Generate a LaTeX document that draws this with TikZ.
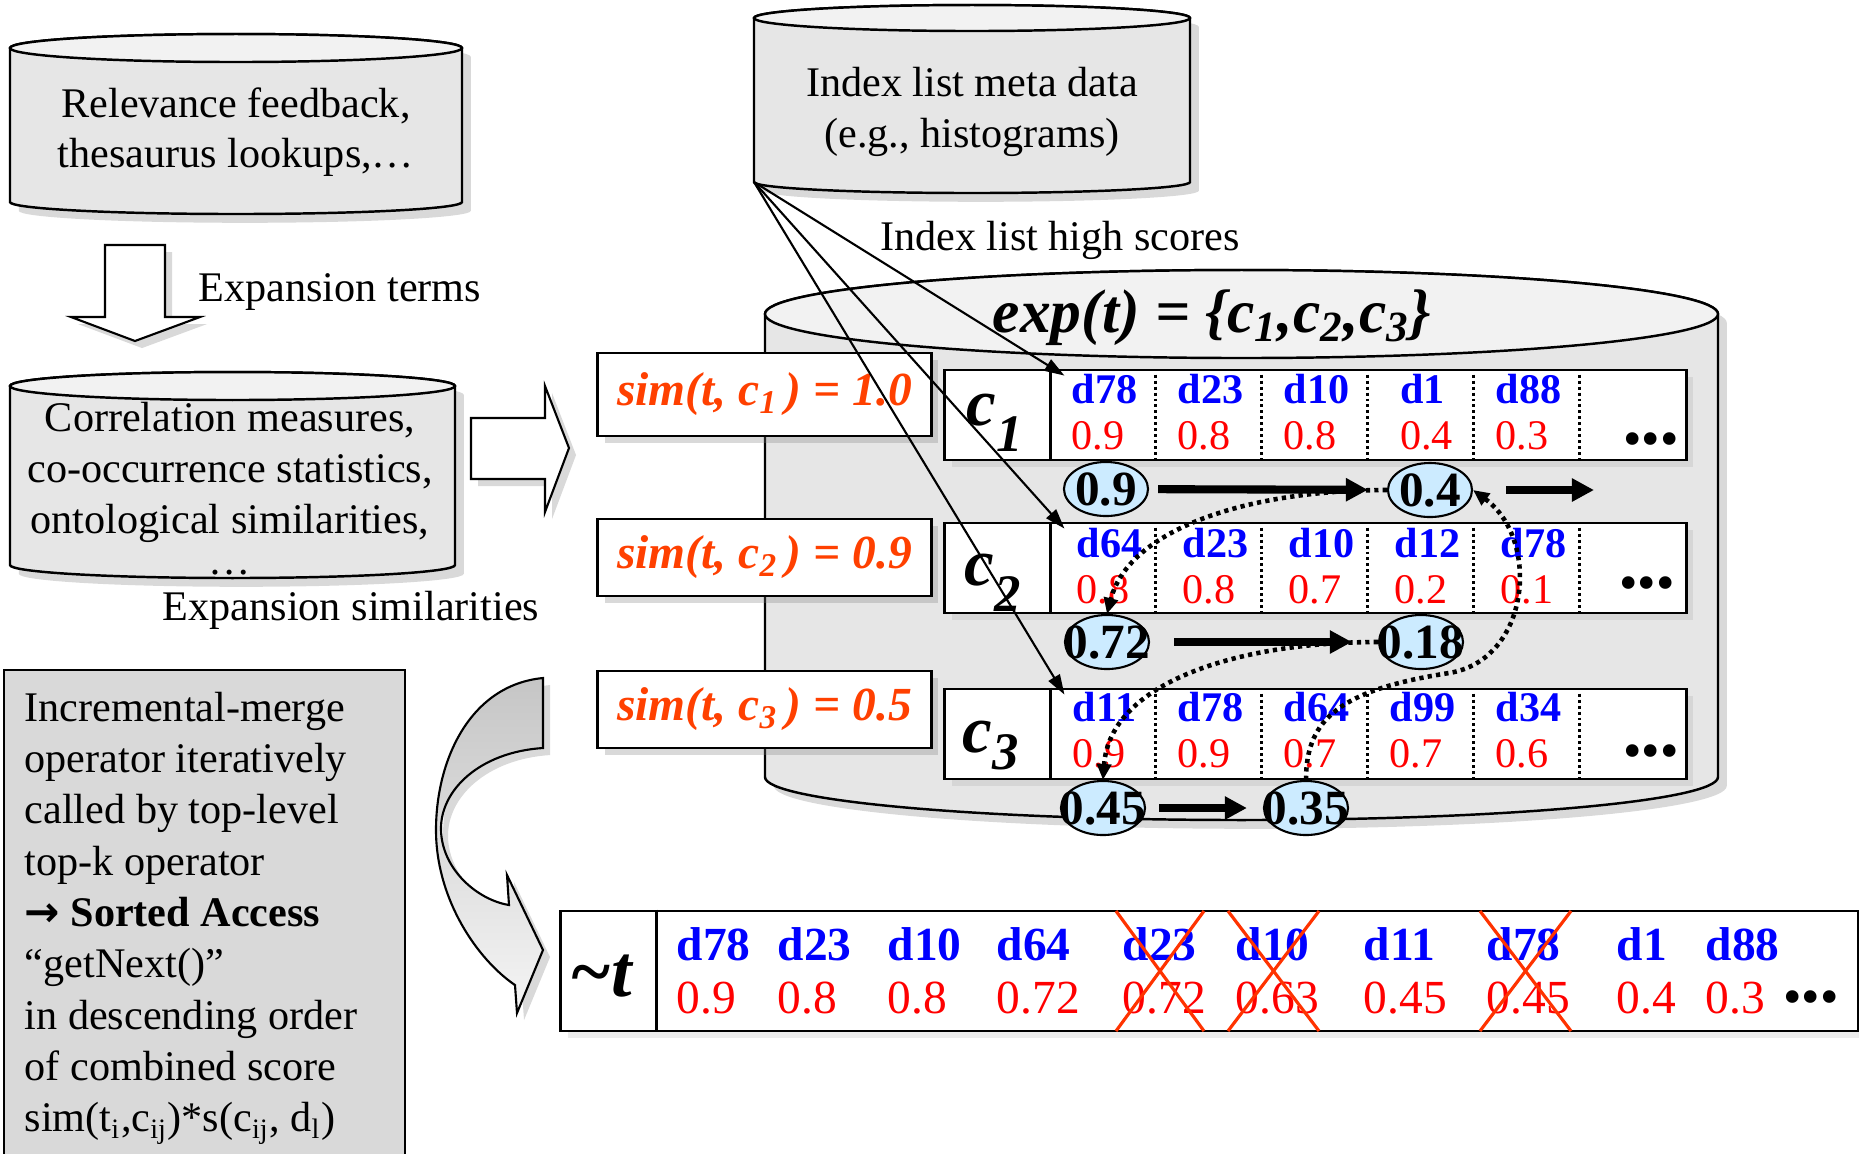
\documentclass[tikz,border=0pt]{standalone}
\usepackage{fontspec}
\setmainfont{Liberation Serif}
\newfontfamily\arrowfont{DejaVu Sans}
\usepackage{tikz}
\usetikzlibrary{shapes,arrows.meta,positioning,shadows,calc}

\definecolor{cylfill}{HTML}{E6E6E6}
\definecolor{lidfill}{HTML}{F2F2F2}
\definecolor{opfill}{HTML}{D9D9D9}
\definecolor{scorefill}{HTML}{CCEBFF}
\definecolor{simcol}{HTML}{FF4000}
\definecolor{strike}{HTML}{FF3300}
\definecolor{docblue}{HTML}{0000FF}
\definecolor{scorered}{HTML}{FF0000}

\begin{document}
\begin{tikzpicture}[
    x=0.01cm, y=-0.01cm,
    txt/.style={inner sep=0pt, font=\fontsize{12}{14.4}\selectfont},
    cylside/.style={draw, line width=0.7pt, fill=cylfill, drop shadow={shadow xshift=2.5pt, shadow yshift=-2.5pt, opacity=0.3}},
    cyllid/.style={draw, line width=0.7pt, fill=lidfill},
    hollow/.style={draw, line width=0.6pt, fill=white, drop shadow={shadow xshift=2pt, shadow yshift=-2pt, opacity=0.3}},
    curvearrow/.style={draw, line width=0.6pt, top color=gray!45, bottom color=gray!8, drop shadow={shadow xshift=2pt, shadow yshift=-2pt, opacity=0.3}},
    opframe/.style={draw, line width=0.6pt, fill=opfill},
    simbox/.style={rectangle, draw, line width=0.8pt, fill=white, minimum width=3.33cm, minimum height=0.83cm, inner sep=0pt, font=\fontsize{13.5}{15}\selectfont\bfseries\itshape, text=simcol, drop shadow={shadow xshift=2pt, shadow yshift=-2pt, opacity=0.3}},
    rowbox/.style={rectangle, draw, line width=0.8pt, fill=white, minimum width=7.41cm, minimum height=0.9cm, inner sep=0pt, drop shadow={shadow xshift=2pt, shadow yshift=-2pt, opacity=0.15}},
    clabel/.style={inner sep=0pt, anchor=base west, font=\fontsize{19}{22}\selectfont\bfseries\itshape},
    docid/.style={inner sep=0pt, anchor=base, text=docblue, font=\fontsize{12}{14}\selectfont\bfseries},
    docscore/.style={inner sep=0pt, anchor=base west, text=scorered, font=\fontsize{12}{14}\selectfont},
    moredots/.style={inner sep=0pt, font=\fontsize{15}{18}\selectfont},
    listsep/.style={line width=0.85pt, dash pattern=on 0.85pt off 0.85pt},
    scoreell/.style={ellipse, draw, line width=0.6pt, fill=scorefill, minimum width=0.84cm, minimum height=0.54cm, inner sep=0pt, font=\fontsize{14}{16}\selectfont\bfseries},
    bigarrow/.style={-{Triangle[length=0.22cm, width=0.22cm]}, line width=2.3pt},
    dotarrow/.style={-{Triangle[length=0.16cm, width=0.14cm]}, line width=1.3pt, dash pattern=on 1.2pt off 1.2pt},
    hitarrow/.style={-{Triangle[length=0.2cm, width=0.13cm]}, line width=0.6pt},
    crossout/.style={strike, line width=0.9pt}
]
    \useasboundingbox (0,0) rectangle (1859,1153);

    % ============ Relevance feedback store ============
    \path[cylside] (10,48) -- (10,202) arc[start angle=180, end angle=0, x radius=226, y radius=12]
        -- (462,48) arc[start angle=0, end angle=-180, x radius=226, y radius=14] -- cycle;
    \path[cyllid] (236,48) ellipse[x radius=226, y radius=14];
    \node[txt, align=center] (relfb) at (236,132) {Relevance feedback,\\thesaurus lookups,…};

    % expansion terms arrow
    \path[hollow] (105,245) -- (165,245) -- (165,317) -- (200,317) -- (135,341) -- (71,317) -- (105,317) -- cycle;
    \node[txt, anchor=west] (expterms) at (198,292) {Expansion terms};

    % ============ Correlation store ============
    \path[cylside] (10,386) -- (10,565) arc[start angle=180, end angle=0, x radius=222.5, y radius=13]
        -- (455,386) arc[start angle=0, end angle=-180, x radius=222.5, y radius=14] -- cycle;
    \path[cyllid] (232.5,386) ellipse[x radius=222.5, y radius=14];
    \node[txt, align=center] (corr) at (230,489) {Correlation measures,\\co-occurrence statistics,\\ontological similarities,\\[-2.5pt]…};
    \node[txt] (expsim) at (351,610) {Expansion similarities};

    % similarities arrow
    \path[hollow] (471,418) -- (545,418) -- (545,386) -- (569,448) -- (545,512) -- (545,479) -- (471,479) -- cycle;

    % ============ Operator description ============
    \path[opframe] (4,670) rectangle (405,1165);
    \node[txt, anchor=north west, align=left, font=\fontsize{12}{14.6}\selectfont] (opdesc) at (24,691)
        {Incremental-merge\\operator iteratively\\called by top-level\\top-k operator\\{\arrowfont\bfseries →} \textbf{Sorted Access}\\“getNext()”\\in descending order\\of combined score\\sim(t\textsubscript{i},c\textsubscript{ij})*s(c\textsubscript{ij}, d\textsubscript{l})};

    % merge arrow
    \path[curvearrow] (543,678) .. controls (470,685) and (436,760) .. (436,830)
        .. controls (436,900) and (478,960) .. (515,985) -- (517,1013) -- (543,950) -- (507,875) -- (509,905)
        .. controls (478,900) and (442,870) .. (441,830) .. controls (440,790) and (480,752) .. (543,748) -- cycle;

    % ============ Index list meta data ============
    \path[cylside] (754,18) -- (754,182) arc[start angle=180, end angle=0, x radius=218, y radius=11]
        -- (1190,18) arc[start angle=0, end angle=-180, x radius=218, y radius=13] -- cycle;
    \path[cyllid] (972,18) ellipse[x radius=218, y radius=13];
    \node[txt, align=center] (meta) at (972,112) {Index list meta data\\(e.g., histograms)};
    \coordinate (metacorner) at (754,182);
    \node[txt] (hiscores) at (1060,240) {Index list high scores};

    % ============ Expansion index lists ============
    \path[cylside] (765,314) -- (765,777) arc[start angle=180, end angle=0, x radius=476.5, y radius=43]
        -- (1718,314) arc[start angle=0, end angle=-180, x radius=476.5, y radius=44] -- cycle;
    \path[cyllid] (1241.5,314) ellipse[x radius=476.5, y radius=44];
    \node[inner sep=0pt, font=\fontsize{17.5}{20}\selectfont\bfseries\itshape] (expt) at (1212,318)
        {exp(t) = \{c\textsubscript{1},c\textsubscript{2},c\textsubscript{3}\}};

    % sim boxes
    \node[simbox] (sim1) at (764.5,394.5) {sim(t, c\textsubscript{1}\,) = 1.0};
    \node[simbox, minimum height=0.77cm] (sim2) at (764.5,557.5) {sim(t, c\textsubscript{2}\,) = 0.9};
    \node[simbox, minimum height=0.77cm] (sim3) at (764.5,709.5) {sim(t, c\textsubscript{3}\,) = 0.5};

    % list rows
    \node[rowbox] (row1) at (1315.5,415) {};
    \node[rowbox] (row2) at (1315.5,568) {};
    \node[rowbox] (row3) at (1315.5,734) {};
    \foreach \r in {1,2,3} {
        \draw[line width=0.9pt] ([xshift=1.07cm]row\r.north west) -- ([xshift=1.07cm]row\r.south west);
        \foreach \o in {2.12,3.18,4.24,5.30,6.36}
            \draw[listsep] ([xshift=\o cm, yshift=-0.06cm]row\r.north west) -- ([xshift=\o cm, yshift=0.03cm]row\r.south west);
    }
    \node[clabel] (lab1) at (966,425) {c\raisebox{-7.5pt}{\fontsize{15}{17}\selectfont 1}};
    \node[clabel] (lab2) at (964,585) {c\raisebox{-7.5pt}{\fontsize{15}{17}\selectfont 2}};
    \node[clabel] (lab3) at (962,752) {c\raisebox{-5pt}{\fontsize{15}{17}\selectfont 3}};

    \foreach \id/\sc [count=\i] in {d78/0.9, d23/0.8, d10/0.8, d1/0.4, d88/0.3} {
        \node[docid] (r1d\i) at ({1104.5+106*(\i-1)},403) {\id};
        \node[docscore] (r1s\i) at ([yshift=-0.46cm]r1d\i.base west) {\sc};
    }
    \foreach \id/\sc [count=\i] in {d64/0.8, d23/0.8, d10/0.7, d12/0.2, d78/0.1} {
        \node[docid] (r2d\i) at ({1109.5+106*(\i-1)},557) {\id};
        \node[docscore] (r2s\i) at ([yshift=-0.46cm]r2d\i.base west) {\sc};
    }
    \foreach \id/\sc [count=\i] in {d11/0.9, d78/0.9, d64/0.7, d99/0.7, d34/0.6} {
        \node[docid] (r3d\i) at ({1104.5+106*(\i-1)},721) {\id};
        \node[docscore] (r3s\i) at ([yshift=-0.46cm]r3d\i.base west) {\sc};
    }
    \node[moredots] (more1) at (1651,445) {•••};
    \node[moredots] (more2) at (1647,589) {•••};
    \node[moredots] (more3) at (1651,757) {•••};

    % combined scores
    \node[scoreell] (e1a) at (1106,489) {\makebox[0pt]{0.9}};
    \node[scoreell] (e1b) at (1430,490) {\makebox[0pt]{0.4}};
    \node[scoreell] (e2a) at (1107,642) {\makebox[0pt]{0.72}};
    \node[scoreell] (e2b) at (1421,642) {\makebox[0pt]{0.18}};
    \node[scoreell] (e3a) at (1103,808) {\makebox[0pt]{0.45}};
    \node[scoreell] (e3b) at (1306,808) {\makebox[0pt]{0.35}};
    \coordinate (r1next) at (1594,490);

    \draw[bigarrow, shorten <=0.09cm, shorten >=0.19cm] (e1a) -- (e1b);
    \draw[bigarrow, shorten <=0.33cm] (e1b) -- (r1next);
    \draw[bigarrow, shorten <=0.24cm, shorten >=0.26cm] (e2a) -- (e2b);
    \draw[bigarrow, shorten <=0.13cm, shorten >=0.16cm] (e3a) -- (e3b);

    \draw[dotarrow] (e1b.west) .. controls +(-139,0) and +(22,-85) .. (e2a.north);
    \draw[dotarrow] (e2b.west) .. controls +(-139,0) and +(7,-98) .. (e3a.north);
    \draw[dotarrow] (e3b.north) .. controls +(0,-61) and +(-109,17) .. (1449,673)
        .. controls +(81,-13) and +(68,50) .. (e1b.east);

    % high score pointers
    \foreach \r in {1,2,3}
        \draw[hitarrow] (metacorner) -- ([xshift=1.21cm, yshift=-0.07cm]row\r.north west);

    % ============ Merged result ============
    \node[rowbox, minimum width=12.97cm, minimum height=1.2cm] (tres) at (1209.5,971) {};
    \draw[line width=0.9pt] ([xshift=0.97cm]tres.north west) -- ([xshift=0.97cm]tres.south west);
    \node[clabel, font=\fontsize{21}{24}\selectfont\bfseries\itshape] (tlab) at (569,996) {\textasciitilde t};
    \foreach \id/\sc/\xx [count=\i] in {d78/0.9/676, d23/0.8/777, d10/0.8/887, d64/0.72/996, d23/0.72/1122,
            d10/0.63/1235, d11/0.45/1363, d78/0.45/1486, d1/0.4/1616, d88/0.3/1705} {
        \node[docid, anchor=base west, font=\fontsize{13.5}{16}\selectfont\bfseries] (tid\i) at (\xx,960) {\id};
        \node[docscore, font=\fontsize{13.5}{16}\selectfont] (tsc\i) at (\xx,1013) {\sc};
    }
    \node[moredots] (tmore) at (1811,1003) {•••};
    \foreach \xa/\xb in {1116/1204, 1228/1319, 1480/1571} {
        \draw[crossout] (\xa,911) -- (\xb,1031);
        \draw[crossout] (\xa,1031) -- (\xb,911);
    }
\end{tikzpicture}
\end{document}
